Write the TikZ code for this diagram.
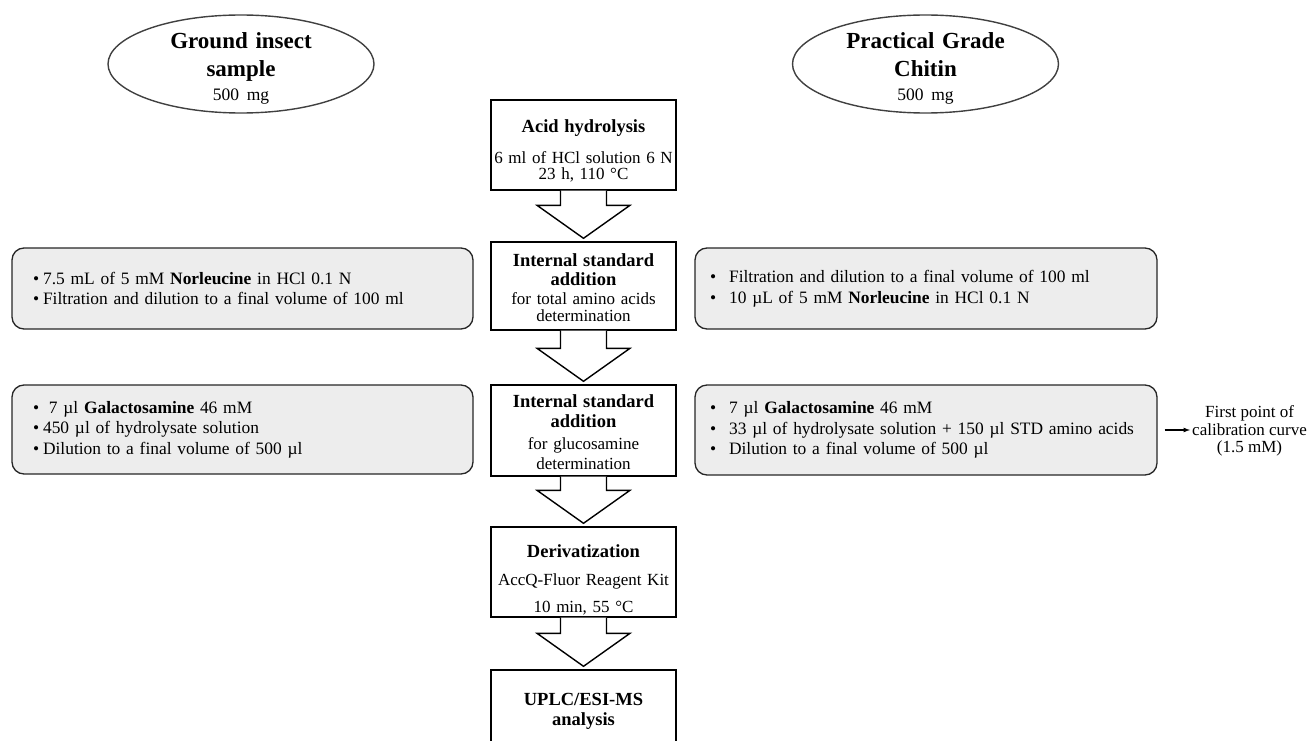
\documentclass[tikz,border=0pt]{standalone}
\usepackage{fontspec}
\setmainfont{Liberation Serif}
\usepackage{tikz}
\usetikzlibrary{calc, shapes}
\usetikzlibrary{shapes.geometric,arrows}
\usetikzlibrary{positioning}
\definecolor{notegray}{RGB}{237,237,237}
\newcommand{\bl}{\textbullet\hspace{4pt}}
\newcommand{\br}{\textbullet\hspace{13pt}}
\newcommand{\hd}[1]{{\fontsize{18.5}{19}\selectfont\bfseries #1}}

\begin{document}
\begin{tikzpicture}[x=1pt, y=-1pt,
	sample/.style={ellipse, draw=black!75, line width=1.4pt,
		minimum width=266pt, minimum height=98pt, inner xsep=0pt, inner ysep=-5.5pt,
		text width=170pt, align=center,
		font=\fontsize{23}{27.5}\selectfont\bfseries},
	stepbox/.style={draw, line width=1.4pt, fill=white,
		minimum width=185pt, text width=181pt, inner sep=2pt,
		align=center, font=\fontsize{17}{17.5}\selectfont},
	note/.style={draw=black!85, line width=1.3pt, fill=notegray,
		rounded corners=12pt, align=left,
		font=\fontsize{17.4}{20.5}\selectfont},
	flow/.style={draw, line width=1.4pt, fill=white,
		to path={let \p1=(\tikztostart.south), \p2=(\tikztotarget.north) in
		(\x1-23pt,\y1) -- (\x1-23pt,\y2+36pt) -- (\x1-46.5pt,\y2+36pt)
		-- (\x1,\y2+3pt) -- (\x1+46.5pt,\y2+36pt) -- (\x1+23pt,\y2+36pt)
		-- (\x1+23pt,\y1)}}]

\path[use as bounding box, clip] (0,0) rectangle (1309,741);

% starting material
\node[sample] (gis) at (241,64) {\rule{0pt}{24.5pt}Ground insect\\sample\\[-3.5pt]
	{\fontsize{17.5}{20}\mdseries\selectfont 500 mg}};
\node[sample] (chitin) at (925.5,64) {\rule{0pt}{24.5pt}Practical Grade\\Chitin\\[-3.5pt]
	{\fontsize{17.5}{20}\mdseries\selectfont 500 mg}};

% main steps
\node[stepbox, minimum height=90pt] (hydro) at (583.5,145)
	{\rule{0pt}{24.5pt}\hd{Acid hydrolysis}\\[13pt]
	6 ml of HCl solution 6 N\\[-1.5pt] 23 h, 110 °C};
\node[stepbox, minimum height=88pt] (isaa) at (583.5,286)
	{\rule{0pt}{16.5pt}\hd{Internal standard}\\[1pt]
	\hd{addition}\\[1.5pt]
	for total amino acids\\ determination};
\node[stepbox, minimum height=91pt] (isgl) at (583.5,430.5)
	{\rule{0pt}{16.5pt}\hd{Internal standard}\\[2.5pt]
	\hd{addition}\\[5pt]
	for glucosamine\\[2.5pt] determination};
\node[stepbox, minimum height=90pt] (deriv) at (583.5,572)
	{\rule{0pt}{28.5pt}\hd{Derivatization}\\[10pt]
	AccQ-Fluor Reagent Kit\\[9.5pt] 10 min, 55 °C};
\node[stepbox, minimum height=82pt] (uplc) at (583.5,711)
	{\hd{UPLC/ESI-MS}\\[2.5pt]
	\hd{analysis}};

\draw[flow] (hydro) to (isaa);
\draw[flow] (isaa) to (isgl);
\draw[flow] (isgl) to (deriv);
\draw[flow] (deriv) to (uplc);

% side notes
\node[note, text width=419pt, inner xsep=21pt, minimum height=81pt] (aaL) at (242.5,288.5)
	{\bl 7.5 mL of 5 mM \textbf{Norleucine} in HCl 0.1 N\\
	\bl Filtration and dilution to a final volume of 100 ml};
\node[note, text width=419pt, inner xsep=21pt, minimum height=89pt] (glL) at (242.5,429.5)
	{\bl\ 7 µl \textbf{Galactosamine} 46 mM\\
	\bl 450 µl of hydrolysate solution\\
	\bl Dilution to a final volume of 500 µl};
\node[note, text width=432pt, inner xsep=15pt, minimum height=81pt] (aaR) at (926,288.5)
	{\br Filtration and dilution to a final volume of 100 ml\\
	\br 10 µL of 5 mM \textbf{Norleucine} in HCl 0.1 N};
\node[note, text width=432pt, inner xsep=15pt, minimum height=90pt] (glR) at (926,430)
	{\br 7 µl \textbf{Galactosamine} 46 mM\\
	\br 33 µl of hydrolysate solution + 150 µl STD amino acids\\
	\br Dilution to a final volume of 500 µl};

\node[anchor=west, align=center, inner sep=2pt, font=\fontsize{17}{17.5}\selectfont]
	(calib) at (1190,431) {First point of\\ calibration curve\\ (1.5 mM)};
\draw[-latex, line width=1.2pt] ([xshift=7pt]glR.east) -- (calib.west |- glR.east);

\end{tikzpicture}
\end{document}
